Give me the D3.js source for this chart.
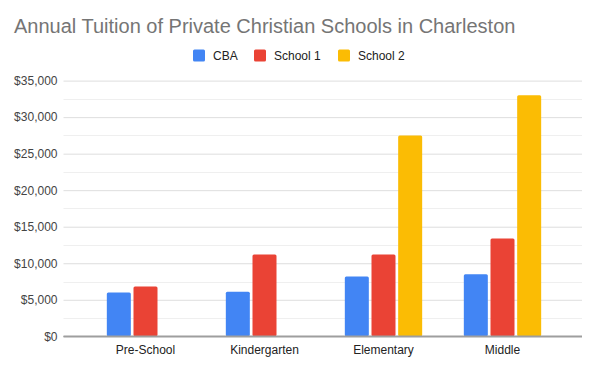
<!DOCTYPE html>
<html><head><meta charset="utf-8">
<script src="https://cdn.jsdelivr.net/npm/d3@7"></script>
<style>body{margin:0;background:#fff;font-family:Arial,"Liberation Sans",sans-serif}</style>
</head><body><svg id="c" width="600" height="365"></svg>
<script>
const categories = ["Pre-School", "Kindergarten", "Elementary", "Middle"];
const seriesNames = ["CBA", "School 1", "School 2"];
const cba = [6000, 6100, 8200, 8500];
const school1 = [6800, 11200, 11200, 13400];
const school2 = [0, 0, 27500, 33000];
const yTicks = [0, 5000, 10000, 15000, 20000, 25000, 30000, 35000];
const colors = ["#4285F4", "#EA4335", "#FBBC04"];
const series = [cba, school1, school2];

const svg = d3.select("#c");
svg.append("rect").attr("width",600).attr("height",365).attr("fill","#fff");

const plotL = 63.5, plotR = 582;
const y = d3.scaleLinear().domain([0, 35000]).range([336.3, 80.6]);
const x0 = d3.scaleBand().domain(categories).range([86, 562]).paddingInner(0.35).paddingOuter(0.175);
const x1 = d3.scaleBand().domain(seriesNames).range([0, x0.bandwidth()]).paddingInner(0.1);

// minor gridlines
const minor = d3.range(2500, 35000, 5000);
svg.append("g").selectAll("line").data(minor).join("line")
  .attr("x1", plotL).attr("x2", plotR)
  .attr("y1", d => Math.round(y(d)) + 0.5).attr("y2", d => Math.round(y(d)) + 0.5)
  .attr("stroke", "#efefef").attr("stroke-width", 1);

// y axis with major gridlines
const yAxis = d3.axisLeft(y).tickValues(yTicks)
  .tickFormat(d => "$" + d3.format(",")(d))
  .tickSize(-(plotR - plotL)).tickPadding(6);
const gy = svg.append("g").attr("transform", `translate(${plotL},0)`).call(yAxis);
gy.select(".domain").remove();
gy.selectAll(".tick line").attr("stroke", d => d === 0 ? "#9e9e9e" : "#dedede").attr("stroke-width", d => d === 0 ? 1.5 : 1);
gy.selectAll(".tick text").attr("fill", "#444").style("font-size", "12px").style("font-family", "Arial, 'Liberation Sans', sans-serif");

// bars
const groups = svg.append("g").selectAll("g").data(categories).join("g")
  .attr("transform", c => `translate(${x0(c)},0)`);
groups.selectAll("rect").data((c, i) => series.map((s, k) => ({k, v: s[i]})).filter(d => d.v > 0))
  .join("rect")
  .attr("x", d => x1(seriesNames[d.k]))
  .attr("width", x1.bandwidth())
  .attr("y", d => y(d.v))
  .attr("height", d => y(0) - y(d.v))
  .attr("rx", 1.5)
  .attr("fill", d => colors[d.k]);

// redraw baseline on top
svg.append("line").attr("x1", plotL).attr("x2", plotR).attr("y1", y(0)).attr("y2", y(0))
  .attr("stroke", "#9e9e9e").attr("stroke-width", 1.5);

// x axis labels
const xAxis = d3.axisBottom(x0).tickSize(0).tickPadding(9);
const gx = svg.append("g").attr("transform", `translate(0,${y(0)})`).call(xAxis);
gx.select(".domain").remove();
gx.selectAll(".tick text").attr("fill", "#222").style("font-size", "12px").style("font-family", "Arial, 'Liberation Sans', sans-serif");

// title
svg.append("text").attr("x", 14).attr("y", 33).attr("fill", "#757575")
  .style("font-size", "20px").style("font-family", "Arial, 'Liberation Sans', sans-serif")
  .text("Annual Tuition of Private Christian Schools in Charleston");

// legend
const legX = [193, 254, 338];
const leg = svg.append("g").selectAll("g").data(seriesNames).join("g")
  .attr("transform", (d, i) => `translate(${legX[i]},49.5)`);
leg.append("rect").attr("width", 12).attr("height", 12).attr("rx", 1.5).attr("fill", (d, i) => colors[i]);
leg.append("text").attr("x", 20).attr("y", 10.5).attr("fill", "#222")
  .style("font-size", "12px").style("font-family", "Arial, 'Liberation Sans', sans-serif").text(d => d);
</script></body></html>
